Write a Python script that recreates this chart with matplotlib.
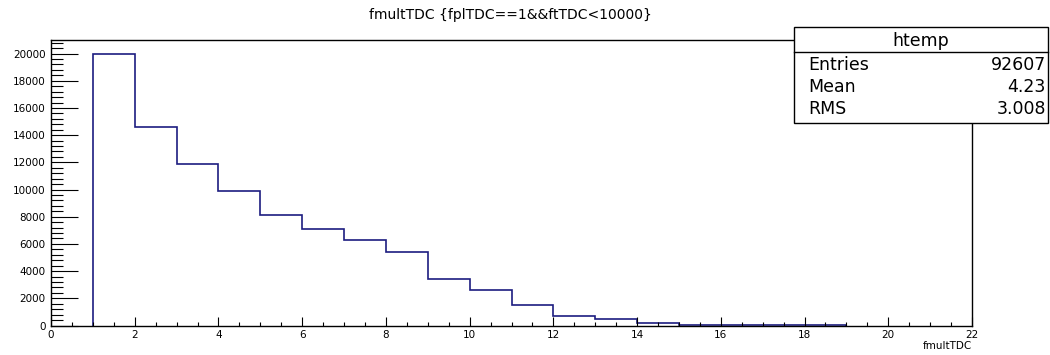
import matplotlib
matplotlib.use("Agg")
import matplotlib.pyplot as plt
from matplotlib.patches import Rectangle
from matplotlib.ticker import MultipleLocator
import numpy as np

# Data (bin width 1, fmultTDC)
bin_edges = [1, 2, 3, 4, 5, 6, 7, 8, 9, 10, 11, 12, 13, 14, 15, 16, 17, 18, 19]
counts = [20000, 14570, 11910, 9870, 8100, 7095, 6255, 5420, 3410, 2620,
          1490, 700, 480, 206, 60, 40, 25, 15]

title = "fmultTDC {fplTDC==1&&ftTDC<10000}"
xlabel = "fmultTDC"
stats_name = "htemp"
stats_labels = ["Entries", "Mean", "RMS"]
stats_values = ["92607", "4.23", "3.008"]

plt.rcParams['font.family'] = ['DejaVu Sans']

W, H = 1050, 355
fig = plt.figure(figsize=(W / 100, H / 100), dpi=100)
ax = fig.add_axes([51 / W, 1 - 325.5 / H, (972 - 51) / W, (325.5 - 40) / H])

ax.stairs(counts, bin_edges, baseline=0, color='#1c1c80', lw=1.2)

ax.set_xlim(0, 22)
ax.set_ylim(0, 21000)
ax.xaxis.set_major_locator(MultipleLocator(2))
ax.xaxis.set_minor_locator(MultipleLocator(0.5))
ax.yaxis.set_major_locator(MultipleLocator(2000))
ax.yaxis.set_minor_locator(MultipleLocator(400))
ax.tick_params(axis='x', which='major', direction='in', length=6.5, width=0.8,
               labelsize=7.5, pad=3)
ax.tick_params(axis='x', which='minor', direction='in', length=3.2, width=0.8)
ax.tick_params(axis='y', which='major', direction='in', length=19.5, width=0.8,
               labelsize=7.5, pad=4)
ax.tick_params(axis='y', which='minor', direction='in', length=8.6, width=0.8)
for s in ax.spines.values():
    s.set_linewidth(1.0)

fig.text(972 / W, 1 - 346 / H, xlabel, ha='right', va='center', fontsize=7.5)
fig.text(510 / W, 1 - 15 / H, title, ha='center', va='center', fontsize=10)

# Stats box
bx0, bx1, by0, by1, byh = 794, 1048, 27, 123, 52
fig.patches.append(Rectangle((bx0 / W, 1 - by1 / H), (bx1 - bx0) / W, (by1 - by0) / H,
                             transform=fig.transFigure, facecolor='white',
                             edgecolor='black', lw=1.0, zorder=5))
fig.add_artist(plt.Line2D([bx0 / W, bx1 / W], [1 - byh / H, 1 - byh / H],
                          transform=fig.transFigure, color='black', lw=1.0, zorder=6))
fig.text((bx0 + bx1) / 2 / W, 1 - 41 / H, stats_name, ha='center', va='center',
         fontsize=12.5, zorder=7)
for i, (lab, val) in enumerate(zip(stats_labels, stats_values)):
    y = 1 - (64.5 + i * 22.5) / H
    fig.text(808 / W, y, lab, ha='left', va='center', fontsize=12.5, zorder=7)
    fig.text(1046 / W, y, val, ha='right', va='center', fontsize=12.5, zorder=7)

fig.savefig("out.png", dpi=100)
